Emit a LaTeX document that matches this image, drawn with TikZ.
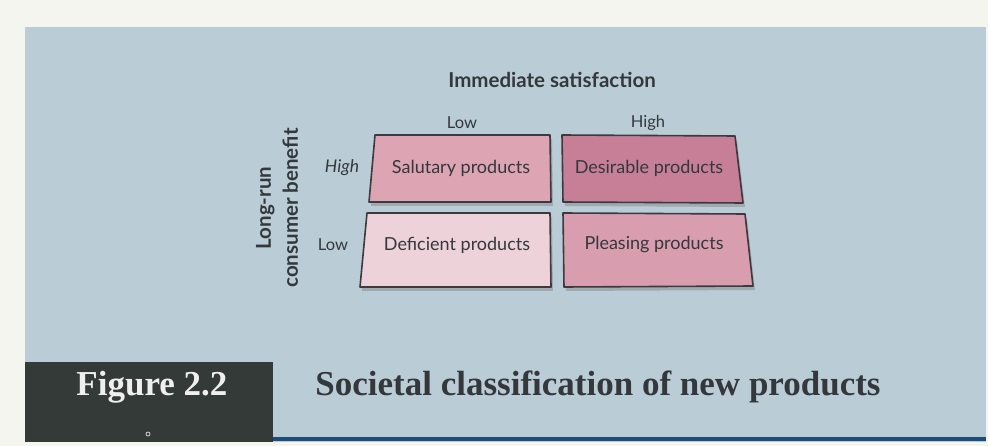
\documentclass[tikz,border=0pt]{standalone}
\usepackage{fontspec}
\setmainfont{Liberation Serif}
\setsansfont{Lato}
\usepackage{tikz}
\usetikzlibrary{positioning, shadows}
\usepackage[usenames,dvipsnames]{xcolor}
\definecolor{mypage}{HTML}{F4F5EE}
\definecolor{mypanel}{HTML}{BACDD6}
\definecolor{mydark}{HTML}{343A37}
\definecolor{myblue}{HTML}{1E4C78}
\definecolor{myborder}{HTML}{3C3A3C}
\definecolor{mytext}{HTML}{34383C}
\definecolor{salutary}{HTML}{DDA4B4}
\definecolor{desirable}{HTML}{C67F97}
\definecolor{deficient}{HTML}{EDD2DA}
\definecolor{pleasing}{HTML}{D89EAF}
\tikzset{
	cell/.style={draw=myborder, line width=1.6pt, line join=round,
		drop shadow={shadow xshift=2pt, shadow yshift=-4pt, opacity=0.45}},
	celltext/.style={font=\sffamily\fontsize{18}{21}\selectfont, text=mytext},
	axistext/.style={font=\sffamily\bfseries\fontsize{20.5}{27}\selectfont, text=mytext},
	leveltext/.style={font=\sffamily\fontsize{16.5}{19}\selectfont, text=mytext},
}

\begin{document}
\begin{tikzpicture}[x=1pt,y=-1pt]
			\useasboundingbox (0,0) rectangle (988,446);
			\fill[mypage] (0,0) rectangle (988,446);
			\fill[mypanel] (25,27) rectangle (986,442);
			% the four cells
			\draw[cell, fill=salutary] (375,135) -- (550,135) -- (551,202) -- (369,202) -- cycle;
			\draw[cell, fill=desirable] (562,135) -- (735,136) -- (743,203) -- (563,202) -- cycle;
			\draw[cell, fill=deficient] (367,213) -- (550,213) -- (551,287) -- (360,287) -- cycle;
			\draw[cell, fill=pleasing] (563,213) -- (745,214) -- (753,286) -- (564,287) -- cycle;
			\node[celltext] (salutary) at (461,168) {Salutary products};
			\node[celltext] (desirable) at (649,168) {Desirable products};
			\node[celltext] (deficient) at (457,245) {Deficient products};
			\node[celltext] (pleasing) at (654,245) {Pleasing products};
			% axes
			\node[axistext] (immediate) at (552,80) {Immediate satisfaction};
			\node[leveltext] (collow) at (462,123) {Low};
			\node[leveltext] (colhigh) at (648,123) {High};
			\node[axistext, rotate=90, align=center] (longrun) at (277,208) {Long-run\\consumer benefit};
			\node[leveltext, font=\sffamily\itshape\fontsize{17.5}{20}\selectfont] (rowhigh) at (342,168) {High};
			\node[leveltext] (rowlow) at (333,245) {Low};
			% caption bar
			\fill[mydark] (25,362) rectangle (273,442);
			\node[font=\bfseries\fontsize{35}{40}\selectfont, text=white!92!mydark] (figno) at (152,387) {Figure 2.2};
			\draw[white!80!mydark, line width=0.8pt] (148,434) circle (2);
			\draw[myblue, line width=4pt] (273,439) -- (986,439);
			\node[font=\bfseries\fontsize{35}{40}\selectfont, text=mytext] (figtitle) at (598,387) {Societal classification of new products};
		\end{tikzpicture}
\end{document}
